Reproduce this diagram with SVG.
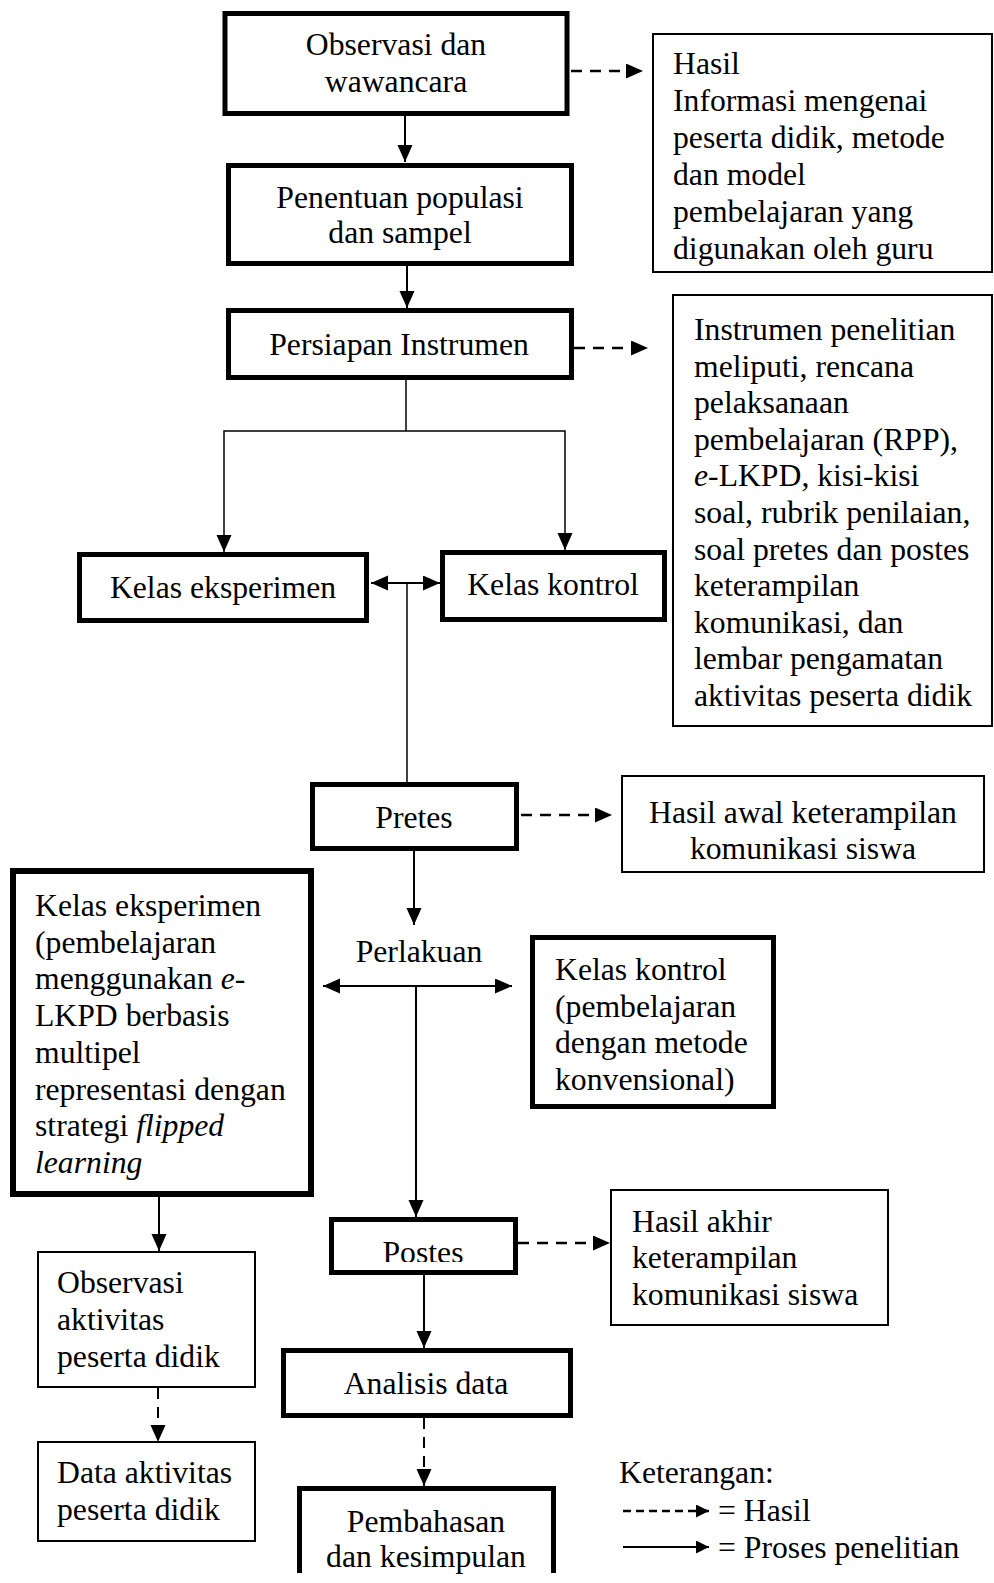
<svg xmlns="http://www.w3.org/2000/svg" width="994" height="1583" viewBox="0 0 994 1583">
<style>
.bg{fill:#fff}
.thick{fill:#fff;stroke:#000;stroke-width:5}
.thick6{fill:#fff;stroke:#000;stroke-width:6}
.thin{fill:#fff;stroke:#000;stroke-width:2}
.t{font-family:"Liberation Serif","Times New Roman",serif;font-size:31.7px;fill:#000}
.c{text-anchor:middle}
.i{font-style:italic}
.solid{fill:none;stroke:#000;stroke-width:2}
.hair{fill:none;stroke:#000;stroke-width:1.5}
.dash{fill:none;stroke:#000;stroke-width:2.6;stroke-dasharray:11 8}
.dashv{fill:none;stroke:#000;stroke-width:2;stroke-dasharray:11 8}
.dashl{fill:none;stroke:#000;stroke-width:2.6;stroke-dasharray:8 5}
</style>
<defs>
<marker id="ah" markerUnits="userSpaceOnUse" markerWidth="18" markerHeight="16" refX="17" refY="7.5" orient="auto-start-reverse">
<path d="M0,0 L17,7.5 L0,15 z" fill="#000"/>
</marker>
<marker id="ahs" markerUnits="userSpaceOnUse" markerWidth="14" markerHeight="14" refX="13" refY="6.5" orient="auto">
<path d="M0,0 L13,6.5 L0,13 z" fill="#000"/>
</marker>
<clipPath id="postesClip">
<rect x="330" y="1219" width="186" height="43"/>
</clipPath>
</defs>
<rect class="bg" x="0" y="0" width="994" height="1583"/>

<g id="connectors">
<line class="solid" x1="405" y1="116" x2="405" y2="162" marker-end="url(#ah)"/>
<line class="solid" x1="407" y1="266" x2="407" y2="308" marker-end="url(#ah)"/>
<line class="dash" x1="571" y1="71" x2="643" y2="71" marker-end="url(#ah)"/>
<line class="dash" x1="574" y1="348" x2="648" y2="348" marker-end="url(#ah)"/>
<polyline class="hair" points="406,380 406,431"/>
<polyline class="hair" points="224,552 224,431 565,431 565,550" marker-start="url(#ah)" marker-end="url(#ah)"/>
<line class="solid" x1="371" y1="583" x2="440" y2="583" marker-start="url(#ah)" marker-end="url(#ah)"/>
<line class="hair" x1="407" y1="583" x2="407" y2="782"/>
<line class="dash" x1="521" y1="815" x2="612" y2="815" marker-end="url(#ah)"/>
<line class="solid" x1="414" y1="851" x2="414" y2="925" marker-end="url(#ah)"/>
<line class="solid" x1="323" y1="986" x2="512" y2="986" marker-start="url(#ah)" marker-end="url(#ah)"/>
<line class="solid" x1="416" y1="986" x2="416" y2="1217" marker-end="url(#ah)"/>
<line class="dash" x1="518" y1="1243" x2="610" y2="1243" marker-end="url(#ah)"/>
<line class="solid" x1="424" y1="1275" x2="424" y2="1348" marker-end="url(#ah)"/>
<line class="dashv" x1="424" y1="1418" x2="424" y2="1486" marker-end="url(#ah)"/>
<line class="solid" x1="159" y1="1197" x2="159" y2="1251" marker-end="url(#ah)"/>
<line class="dashv" x1="158" y1="1388" x2="158" y2="1442" marker-end="url(#ah)"/>
</g>

<g id="observasi">
<rect class="thick" x="225" y="13.5" width="342" height="100"/>
<text class="t c" x="396" y="55">Observasi dan</text>
<text class="t c" x="396" y="92">wawancara</text>
</g>
<g id="hasil-info">
<rect class="thin" x="653" y="34" width="339" height="238"/>
<text class="t" x="673" y="74">Hasil</text>
<text class="t" x="673" y="111">Informasi mengenai</text>
<text class="t" x="673" y="148">peserta didik, metode</text>
<text class="t" x="673" y="185">dan model</text>
<text class="t" x="673" y="222">pembelajaran yang</text>
<text class="t" x="673" y="259">digunakan oleh guru</text>
</g>
<g id="penentuan">
<rect class="thick" x="228.5" y="165.5" width="343" height="98"/>
<text class="t c" x="400" y="208">Penentuan populasi</text>
<text class="t c" x="400" y="243">dan sampel</text>
</g>
<g id="persiapan">
<rect class="thick" x="228.5" y="310.5" width="343" height="67"/>
<text class="t c" x="399" y="355">Persiapan Instrumen</text>
</g>
<g id="instrumen-info">
<rect class="thin" x="673" y="295" width="319" height="431"/>
<text class="t" x="694" y="340">Instrumen penelitian</text>
<text class="t" x="694" y="376.6">meliputi, rencana</text>
<text class="t" x="694" y="413.2">pelaksanaan</text>
<text class="t" x="694" y="449.8">pembelajaran (RPP),</text>
<text class="t" x="694" y="486.4"><tspan class="i">e</tspan>-LKPD, kisi-kisi</text>
<text class="t" x="694" y="523">soal, rubrik penilaian,</text>
<text class="t" x="694" y="559.6">soal pretes dan postes</text>
<text class="t" x="694" y="596.2">keterampilan</text>
<text class="t" x="694" y="632.8">komunikasi, dan</text>
<text class="t" x="694" y="669.4">lembar pengamatan</text>
<text class="t" x="694" y="706">aktivitas peserta didik</text>
</g>
<g id="kelas-eksperimen">
<rect class="thick" x="79.5" y="554.5" width="287" height="66"/>
<text class="t c" x="223" y="598">Kelas eksperimen</text>
</g>
<g id="kelas-kontrol">
<rect class="thick" x="442.5" y="552.5" width="222" height="67"/>
<text class="t c" x="553" y="595">Kelas kontrol</text>
</g>
<g id="pretes">
<rect class="thick" x="312.5" y="784.5" width="204" height="64"/>
<text class="t c" x="414" y="828">Pretes</text>
</g>
<g id="hasil-awal">
<rect class="thin" x="622" y="776" width="362" height="96"/>
<text class="t c" x="803" y="823">Hasil awal keterampilan</text>
<text class="t c" x="803" y="859">komunikasi siswa</text>
</g>
<g id="perlakuan">
<text class="t c" x="419" y="962">Perlakuan</text>
</g>
<g id="eksperimen-detail">
<rect class="thick6" x="13" y="871" width="298" height="323"/>
<text class="t" x="35" y="916">Kelas eksperimen</text>
<text class="t" x="35" y="952.7">(pembelajaran</text>
<text class="t" x="35" y="989.4">menggunakan <tspan class="i">e</tspan>-</text>
<text class="t" x="35" y="1026.1">LKPD berbasis</text>
<text class="t" x="35" y="1062.8">multipel</text>
<text class="t" x="35" y="1099.5">representasi dengan</text>
<text class="t" x="35" y="1136.2">strategi <tspan class="i">flipped</tspan></text>
<text class="t i" x="35" y="1172.9">learning</text>
</g>
<g id="kontrol-detail">
<rect class="thick" x="532.5" y="937.5" width="241" height="169"/>
<text class="t" x="555" y="980">Kelas kontrol</text>
<text class="t" x="555" y="1017">(pembelajaran</text>
<text class="t" x="555" y="1053">dengan metode</text>
<text class="t" x="555" y="1090">konvensional)</text>
</g>
<g id="postes">
<rect class="thick" x="331.5" y="1219.5" width="184" height="53"/>
<text class="t c" x="423" y="1263" clip-path="url(#postesClip)">Postes</text>
</g>
<g id="hasil-akhir">
<rect class="thin" x="611" y="1190" width="277" height="135"/>
<text class="t" x="632" y="1232">Hasil akhir</text>
<text class="t" x="632" y="1268">keterampilan</text>
<text class="t" x="632" y="1305">komunikasi siswa</text>
</g>
<g id="analisis">
<rect class="thick" x="283.5" y="1350.5" width="287" height="65"/>
<text class="t c" x="426" y="1394">Analisis data</text>
</g>
<g id="pembahasan">
<rect class="bg" x="299" y="1488" width="255" height="85"/>
<path d="M299.5,1573 L299.5,1488.5 L553.5,1488.5 L553.5,1573" fill="none" stroke="#000" stroke-width="5"/>
<text class="t c" x="426" y="1532">Pembahasan</text>
<text class="t c" x="426" y="1567">dan kesimpulan</text>
</g>
<g id="observasi-aktivitas">
<rect class="thin" x="38" y="1252" width="217" height="135"/>
<text class="t" x="57" y="1293">Observasi</text>
<text class="t" x="57" y="1330">aktivitas</text>
<text class="t" x="57" y="1367">peserta didik</text>
</g>
<g id="data-aktivitas">
<rect class="thin" x="38" y="1442" width="217" height="99"/>
<text class="t" x="57" y="1483">Data aktivitas</text>
<text class="t" x="57" y="1520">peserta didik</text>
</g>
<g id="legend">
<text class="t" x="619" y="1483">Keterangan:</text>
<line class="dashl" x1="623" y1="1511" x2="709" y2="1511" marker-end="url(#ahs)"/>
<text class="t" x="718" y="1521">= Hasil</text>
<line class="solid" x1="623" y1="1547" x2="709" y2="1547" marker-end="url(#ahs)"/>
<text class="t" x="718" y="1558">= Proses penelitian</text>
</g>
</svg>
